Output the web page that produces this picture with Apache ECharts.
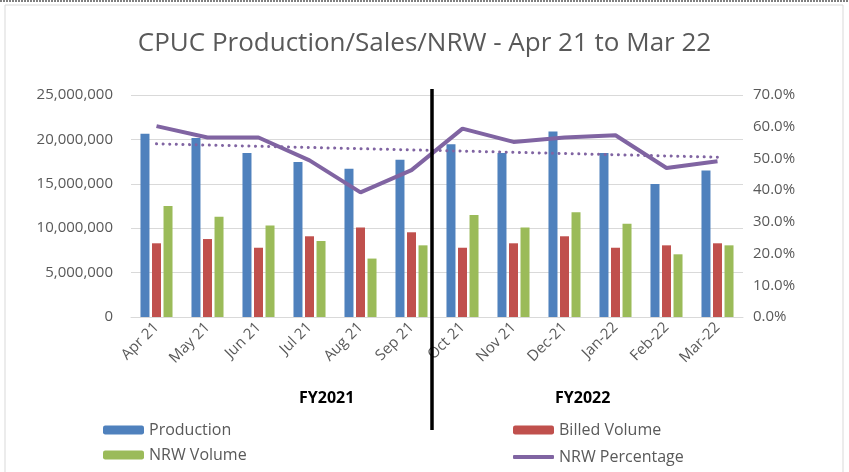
<!DOCTYPE html>
<html lang="en">
<head>
  <meta charset="UTF-8">
  <title>CPUC Production/Sales/NRW</title>
  <script src="https://cdn.jsdelivr.net/npm/echarts@6/dist/echarts.min.js"></script>
</head>
<body style="margin:0;background:#fff;">
<div id="main" style="width: 849px;height:472px;"></div>
<script type="text/javascript">

const months = ['Apr 21', 'May 21', 'Jun 21', 'Jul 21', 'Aug 21', 'Sep 21',
  'Oct 21', 'Nov 21', 'Dec-21', 'Jan-22', 'Feb-22', 'Mar-22'];
const production = [20650000, 20160000, 18470000, 17450000, 16700000, 17700000,
  19450000, 18470000, 20900000, 18470000, 14980000, 16500000];
const billed = [8300000, 8780000, 7800000, 9090000, 10070000, 9540000,
  7800000, 8300000, 9090000, 7800000, 8070000, 8300000];
const nrwVolume = [12500000, 11300000, 10300000, 8560000, 6580000, 8070000,
  11500000, 10070000, 11800000, 10500000, 7060000, 8070000];
const nrwPct = [60.2, 56.6, 56.6, 49.4, 39.3, 46.3, 59.4, 55.2, 56.6, 57.3, 47.0, 49.1];
// dotted linear trend, ends
const trend = [54.6, '-', '-', '-', '-', '-', '-', '-', '-', '-', '-', 50.4];

const txt = '#595959';
const font = 'Open Sans';
const legendText = {fontSize: 16, color: txt, fontFamily: font};

const myChart = echarts.init(document.getElementById('main'));
const option = {
  textStyle: {fontFamily: font},
  title: {
    text: 'CPUC Production/Sales/NRW - Apr 21 to Mar 22',
    left: 'center',
    top: 26,
    textStyle: {fontFamily: font, fontSize: 26, fontWeight: 'normal', color: txt}
  },
  grid: {left: 131, right: 106, top: 95, bottom: 155},
  legend: [
    {
      data: ['Production', 'NRW Volume'],
      orient: 'vertical',
      left: 98, top: 417,
      itemWidth: 41, itemHeight: 9, itemGap: 9,
      textStyle: legendText
    },
    {
      data: ['Billed Volume'],
      left: 508, top: 417,
      itemWidth: 41, itemHeight: 9,
      textStyle: legendText
    },
    {
      data: [{name: 'NRW Percentage', icon: 'roundRect'}],
      left: 508, top: 444,
      itemWidth: 41, itemHeight: 4,
      textStyle: legendText
    }
  ],
  xAxis: {
    type: 'category',
    data: months,
    axisLine: {lineStyle: {color: '#d9d9d9'}},
    axisTick: {show: false},
    axisLabel: {rotate: 45, fontSize: 15, color: txt, interval: 0, margin: 8}
  },
  yAxis: [
    {
      type: 'value', min: 0, max: 25000000, interval: 5000000,
      axisLabel: {
        fontSize: 15, color: txt, margin: 18,
        formatter: v => v.toLocaleString('en-US')
      },
      splitLine: {lineStyle: {color: '#d9d9d9'}}
    },
    {
      type: 'value', min: 0, max: 70, interval: 10,
      axisLabel: {fontSize: 15, color: txt, margin: 10, formatter: v => v.toFixed(1) + '%'},
      splitLine: {show: false}
    }
  ],
  series: [
    {
      name: 'Production', type: 'bar', data: production,
      barWidth: 9, barGap: '28%',
      itemStyle: {color: '#4F81BD'}
    },
    {
      name: 'Billed Volume', type: 'bar', data: billed,
      barWidth: 9,
      itemStyle: {color: '#C0504D'}
    },
    {
      name: 'NRW Volume', type: 'bar', data: nrwVolume,
      barWidth: 9,
      itemStyle: {color: '#9BBB59'}
    },
    {
      name: 'NRW Percentage', type: 'line', yAxisIndex: 1, data: nrwPct,
      showSymbol: false, symbol: 'none',
      lineStyle: {color: '#8064A2', width: 4},
      itemStyle: {color: '#8064A2'},
      z: 5
    },
    {
      name: 'Trend', type: 'line', yAxisIndex: 1, data: trend,
      connectNulls: true, showSymbol: false, symbol: 'none',
      lineStyle: {color: '#8064A2', width: 3, type: [0.1, 6.5], cap: 'round'},
      z: 4
    }
  ],
  graphic: [
    {
      type: 'rect', shape: {x: 5, y: 5, width: 838, height: 480},
      style: {fill: 'none', stroke: '#d9d9d9', lineWidth: 1}, silent: true
    },
    {
      type: 'line', shape: {x1: 0, y1: 1, x2: 849, y2: 1},
      style: {stroke: '#000', lineWidth: 1, lineDash: [2, 1]}, silent: true
    },
    {
      type: 'line', shape: {x1: 432, y1: 89, x2: 432, y2: 430},
      style: {stroke: '#000', lineWidth: 3.5}, z: 100, silent: true
    },
    {
      type: 'text', left: 299, top: 390,
      style: {text: 'FY2021', fontSize: 16, fontWeight: 'bold', fill: '#000', fontFamily: font}
    },
    {
      type: 'text', left: 555, top: 390,
      style: {text: 'FY2022', fontSize: 16, fontWeight: 'bold', fill: '#000', fontFamily: font}
    }
  ]
};
myChart.setOption(option);
</script>
</body>
</html>
